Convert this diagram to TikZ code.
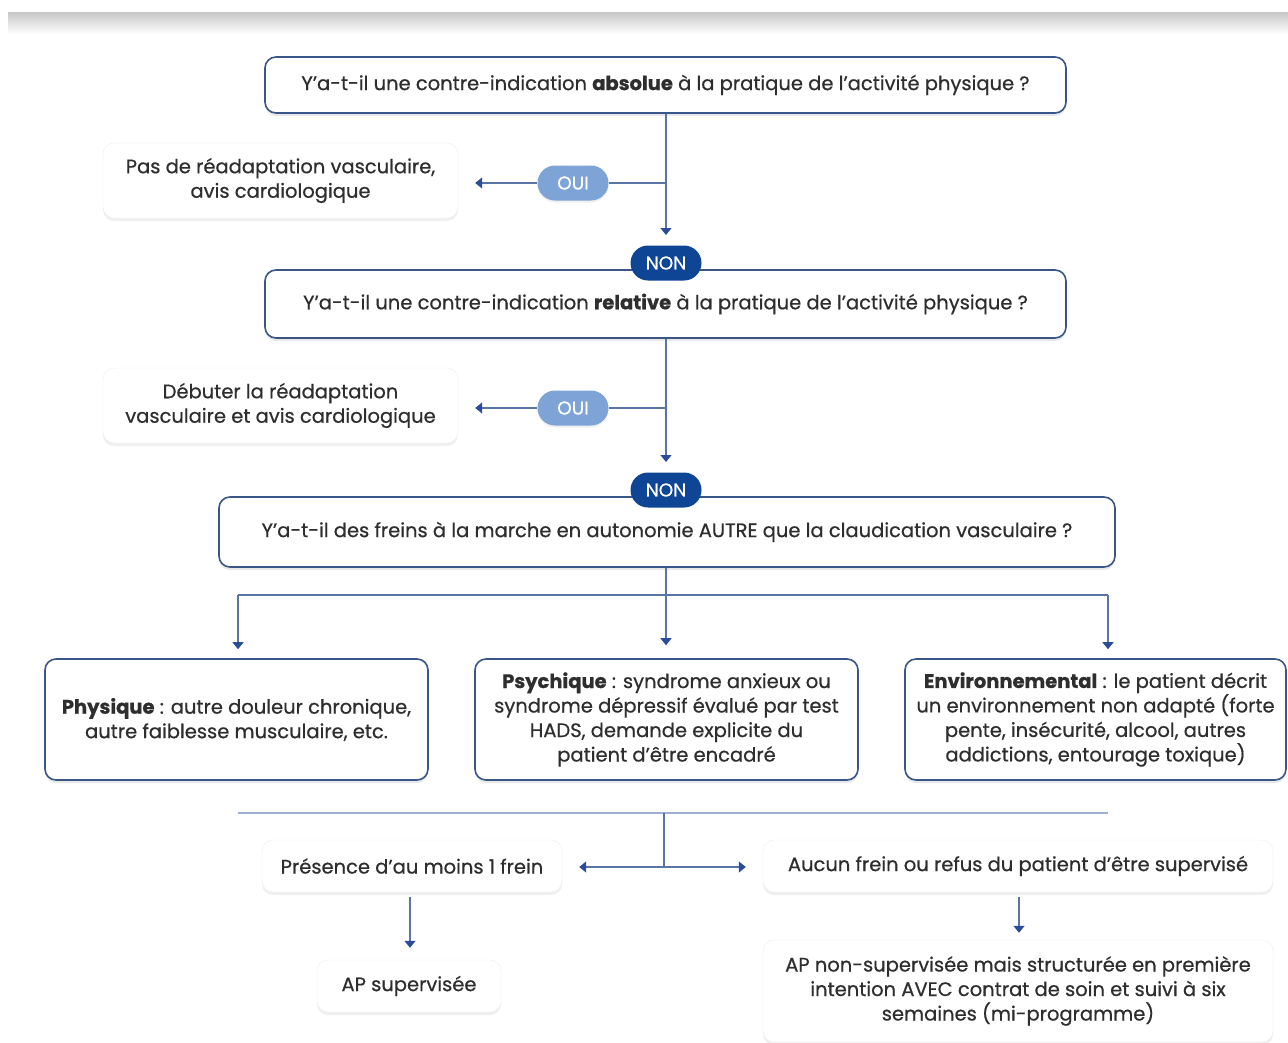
\documentclass[tikz,border=0pt]{standalone}
\usepackage{fontspec}
\setmainfont{Poppins}[UprightFeatures={FakeBold=0.6},BoldFeatures={FakeBold=0.8}]
\usepackage{xcolor}
\usetikzlibrary{arrows.meta,positioning,shapes.misc,shadows}

\definecolor{bordc}{HTML}{3A5587}
\definecolor{linec}{HTML}{5A74A6}
\definecolor{tipc}{HTML}{2A4C9A}
\definecolor{ouic}{HTML}{7EA3D6}
\definecolor{nonc}{HTML}{0E4695}
\definecolor{txtc}{HTML}{2E2E2E}
\definecolor{rulec}{HTML}{9DB0CF}

\begin{document}
\begin{tikzpicture}[x=1pt,y=-1pt,
  txt/.style={font=\fontsize{19.5}{24.5}\selectfont,text=txtc,align=center,inner sep=0pt},
  qbox/.style={txt,draw=bordc,line width=1.6pt,rounded corners=11pt,fill=white,
    drop shadow={opacity=0.18,shadow xshift=0pt,shadow yshift=-3pt}},
  sbox/.style={txt,draw=black!7,rounded corners=11pt,fill=white,
    drop shadow={opacity=0.13,shadow xshift=0pt,shadow yshift=-3pt}},
  pill/.style={rounded rectangle,inner sep=0pt,text=white,font=\fontsize{18.5}{22}\selectfont,
    minimum width=71pt,minimum height=35pt},
  oui/.style={pill,fill=ouic,drop shadow={opacity=0.12,shadow xshift=0pt,shadow yshift=-2pt}},
  non/.style={pill,fill=nonc},
  line/.style={draw=linec,line width=1.3pt},
  arr/.style={line,-{Triangle[length=7pt,width=11pt,color=tipc]}}]
\useasboundingbox (0,0) rectangle (1288,1042);
\shade[top color=black!22,bottom color=white] (8,12) rectangle (1288,34);

% questions
\node[qbox,minimum width=801pt,minimum height=56pt] (q1) at (665.5,85)
  {Y'a-t-il une contre-indication \textbf{absolue} à la pratique de l'activité physique ?};
\node[qbox,minimum width=801pt,minimum height=68pt] (q2) at (665.5,304)
  {Y'a-t-il une contre-indication \textbf{relative} à la pratique de l'activité physique ?};
\node[qbox,minimum width=896pt,minimum height=70pt] (q3) at (667,532)
  {Y'a-t-il des freins à la marche en autonomie AUTRE que la claudication vasculaire ?};

% side answers
\node[sbox,minimum width=355pt,minimum height=75pt] (pas) at (280.5,180.5)
  {Pas de réadaptation vasculaire,\\ avis cardiologique};
\node[sbox,minimum width=355pt,minimum height=75pt] (deb) at (280.5,405.5)
  {Débuter la réadaptation\\ vasculaire et avis cardiologique};

\node[oui] (oui1) at (573,183) {OUI};
\node[oui] (oui2) at (573,408) {OUI};

% freins
\node[qbox,minimum width=383pt,minimum height=121pt] (phys) at (236.5,719.5)
  {\textbf{Physique} : autre douleur chronique,\\ autre faiblesse musculaire, etc.};
\node[qbox,minimum width=383pt,minimum height=121pt] (psy) at (666.5,719.5)
  {\textbf{Psychique} : syndrome anxieux ou\\ syndrome dépressif évalué par test\\
   HADS, demande explicite du\\ patient d'être encadré};
\node[qbox,minimum width=381pt,minimum height=121pt] (env) at (1095.5,719.5)
  {\textbf{Environnemental} : le patient décrit\\ un environnement non adapté (forte\\
   pente, insécurité, alcool, autres\\ addictions, entourage toxique)};

% issues
\node[sbox,minimum width=300pt,minimum height=52pt] (pres) at (412,866)
  {Présence d'au moins 1 frein};
\node[sbox,minimum width=510pt,minimum height=52pt] (auc) at (1018,866)
  {Aucun frein ou refus du patient d'être supervisé};
\node[sbox,minimum width=184pt,minimum height=52pt] (aps) at (409,986) {AP supervisée};
\node[sbox,minimum width=510pt,minimum height=102pt] (apn) at (1018,991)
  {AP non-supervisée mais structurée en première\\ intention AVEC contrat de soin et suivi à six\\
   semaines (mi-programme)};

\coordinate (j1) at (666,183);
\coordinate (j2) at (666,408);
\coordinate (j3) at (666,595);
\coordinate (jl) at (238,595);
\coordinate (jr) at (1108,595);
\coordinate (kl) at (238,813);
\coordinate (kr) at (1108,813);
\coordinate (k1) at (664,813);
\coordinate (k2) at (664,867);

% connectors
\draw[line] (q1.south -| j1) -- (j1);
\draw[arr,shorten >=10pt] (j1) -- (j1 |- 0,245);
\draw[line] (j1) -- (oui1.east);
\draw[arr,shorten >=17pt] (oui1.west) -- (pas.east |- oui1);
\draw[line] (q2.south -| j2) -- (j2);
\draw[arr,shorten >=10pt] (j2) -- (j2 |- 0,472);
\draw[line] (j2) -- (oui2.east);
\draw[arr,shorten >=17pt] (oui2.west) -- (deb.east |- oui2);

\node[non] (non1) at (666,263) {NON};
\node[non] (non2) at (666,490) {NON};

\draw[line] (q3.south -| j3) -- (j3);
\draw[line] (jl) -- (jr);
\draw[arr,shorten >=13pt] (j3) -- (j3 |- psy.north);
\draw[arr,shorten >=9pt] (jl) -- (jl |- phys.north);
\draw[arr,shorten >=9pt] (jr) -- (jr |- env.north);

\draw[draw=rulec,line width=1.3pt] (kl) -- (kr);
\draw[line] (k1) -- (k2);
\draw[arr,shorten >=17pt] (k2) -- (pres.east |- k2);
\draw[arr,shorten >=17pt] (k2) -- (auc.west |- k2);
\draw[arr,shorten <=5pt,shorten >=12pt] (pres.south -| 410,0) -- (aps.north -| 410,0);
\draw[arr,shorten <=5pt,shorten >=7pt] (auc.south -| 1019,0) -- (apn.north -| 1019,0);
\end{tikzpicture}
\end{document}
